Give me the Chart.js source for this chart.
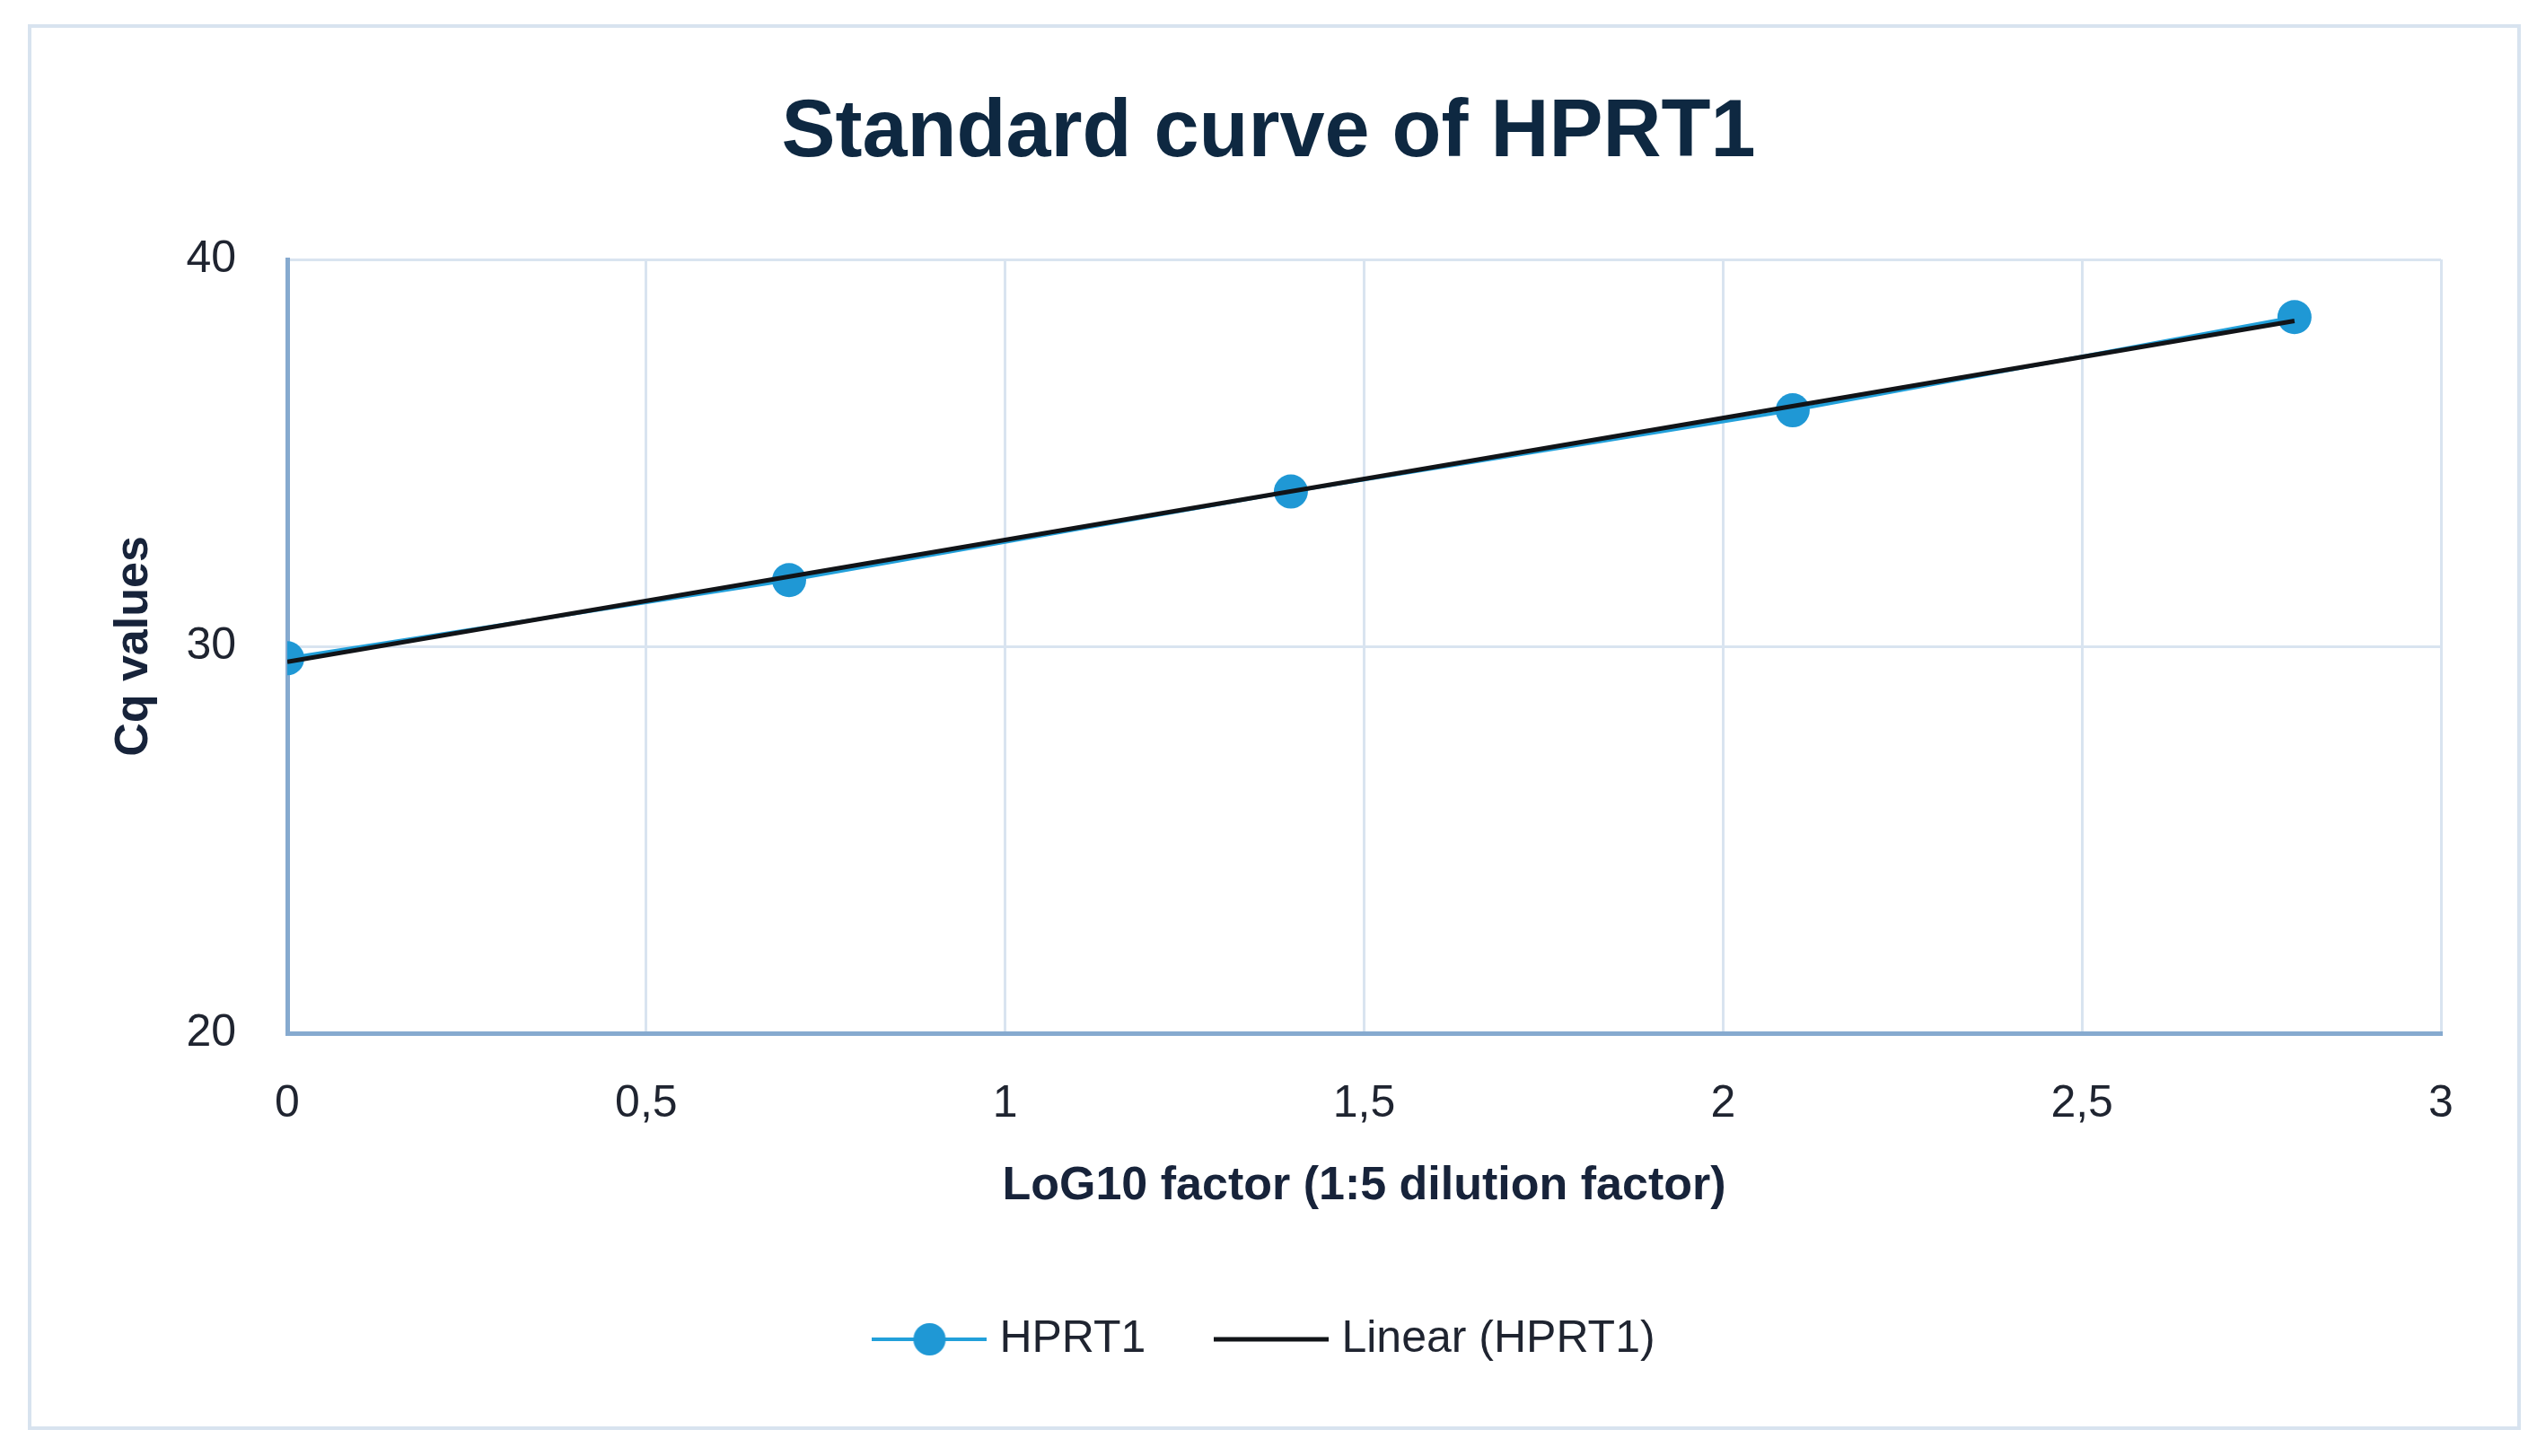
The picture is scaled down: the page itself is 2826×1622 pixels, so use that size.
<!DOCTYPE html>
<html>
<head>
<meta charset="utf-8">
<script src="https://cdn.jsdelivr.net/npm/chart.js@4/dist/chart.umd.min.js"></script>
<style>
  html, body { margin: 0; padding: 0; background: #ffffff; }
  #wrap { position: relative; width: 2826px; height: 1622px; }
  #frame { position: absolute; left: 31px; top: 27px; width: 2777px; height: 1566px;
           border: 4px solid #d8e3ef; box-sizing: border-box; pointer-events: none; }
  canvas { position: absolute; left: 0; top: 0; }
</style>
</head>
<body>
<div id="wrap">
  <div id="frame"></div>
  <canvas id="c" width="2826" height="1622" style="width:2826px;height:1622px"></canvas>
</div>
<script>
// ---- data ----
const chartTitle = 'Standard curve of HPRT1';
const xAxisTitle = 'LoG10 factor (1:5 dilution factor)';
const yAxisTitle = 'Cq values';
const seriesNames = ['HPRT1', 'Linear (HPRT1)'];
const xValues = [0, 0.699, 1.398, 2.097, 2.796];
const cqValues = [29.69, 31.71, 34.0, 36.1, 38.51];
const trendX = [0, 2.796];
const trendY = [29.6, 38.41];
const xRange = [0, 3];
const yRange = [20, 40];
const xStep = 0.5;
const yStep = 10;

const blue = '#22a0da';
const blueMarker = '#1f98d5';
const black = '#111418';

function legendImage(kind) {
  const cv = document.createElement('canvas');
  cv.width = 128; cv.height = 40;
  const g = cv.getContext('2d');
  g.lineCap = 'butt';
  if (kind === 'series') {
    g.strokeStyle = blue; g.lineWidth = 4;
    g.beginPath(); g.moveTo(0, 20); g.lineTo(128, 20); g.stroke();
    g.fillStyle = blueMarker;
    g.beginPath(); g.arc(64, 20, 18, 0, Math.PI * 2); g.fill();
  } else {
    g.strokeStyle = black; g.lineWidth = 5;
    g.beginPath(); g.moveTo(0, 20); g.lineTo(128, 20); g.stroke();
  }
  return cv;
}
const legendImgs = [legendImage('series'), legendImage('trend')];

const seriesPoints = xValues.map((x, i) => ({ x: x, y: cqValues[i] }));
const trendPoints = trendX.map((x, i) => ({ x: x, y: trendY[i] }));

function commaLabel(v) { return String(v).replace('.', ','); }

new Chart(document.getElementById('c'), {
  type: 'scatter',
  data: {
    datasets: [
      {
        label: seriesNames[0],
        data: seriesPoints,
        showLine: true,
        borderColor: blue,
        borderWidth: 4,
        pointRadius: 19,
        pointHoverRadius: 19,
        pointBackgroundColor: blueMarker,
        pointBorderWidth: 0,
        order: 2
      },
      {
        label: seriesNames[1],
        data: trendPoints,
        showLine: true,
        borderColor: black,
        borderWidth: 5,
        pointRadius: 0,
        pointHoverRadius: 0,
        order: 1
      }
    ]
  },
  options: {
    responsive: false,
    animation: false,
    layout: { padding: { left: 107, right: 107, top: 0, bottom: 95 } },
    plugins: {
      tooltip: { enabled: false },
      title: {
        display: true,
        text: chartTitle,
        color: '#0e2841',
        font: { family: 'Liberation Sans, Arial, sans-serif', size: 90, weight: 'bold', lineHeight: 1.2 },
        padding: { top: 95, bottom: 86 }
      },
      legend: {
        display: true,
        position: 'bottom',
        labels: {
          color: '#1f2430',
          font: { family: 'Liberation Sans, Arial, sans-serif', size: 50 },
          usePointStyle: true,
          pointStyleWidth: 106,
          padding: 87,
          generateLabels: function () {
            return seriesNames.map((name, i) => ({
              text: name,
              datasetIndex: i,
              pointStyle: legendImgs[i],
              fillStyle: 'rgba(0,0,0,0)',
              strokeStyle: 'rgba(0,0,0,0)',
              lineWidth: 0,
              fontColor: '#1f2430',
              hidden: false
            }));
          }
        }
      }
    },
    scales: {
      x: {
        type: 'linear',
        min: xRange[0],
        max: xRange[1],
        ticks: {
          stepSize: xStep,
          color: '#1f2430',
          font: { family: 'Liberation Sans, Arial, sans-serif', size: 50 },
          padding: 49,
          maxRotation: 0,
          callback: commaLabel
        },
        grid: { color: '#d9e4f0', lineWidth: 3, drawTicks: false },
        border: { display: true, color: '#86aacf', width: 5 },
        title: {
          display: true,
          text: xAxisTitle,
          color: '#17233a',
          font: { family: 'Liberation Sans, Arial, sans-serif', size: 52, weight: 'bold', lineHeight: 1.2 },
          padding: { top: 0, bottom: 27 }
        },
        afterFit: function (s) { s.height = 229; }
      },
      y: {
        type: 'linear',
        min: yRange[0],
        max: yRange[1],
        ticks: {
          stepSize: yStep,
          color: '#1f2430',
          font: { family: 'Liberation Sans, Arial, sans-serif', size: 50 },
          padding: 57,
          callback: commaLabel
        },
        grid: { color: '#d9e4f0', lineWidth: 3, drawTicks: false },
        border: { display: true, color: '#86aacf', width: 5 },
        title: {
          display: true,
          text: yAxisTitle,
          color: '#17233a',
          font: { family: 'Liberation Sans, Arial, sans-serif', size: 52, weight: 'bold', lineHeight: 1.2 },
          padding: { top: 11, bottom: 0 }
        },
        afterFit: function (s) { s.width = 213; }
      }
    }
  }
});
</script>
</body>
</html>
